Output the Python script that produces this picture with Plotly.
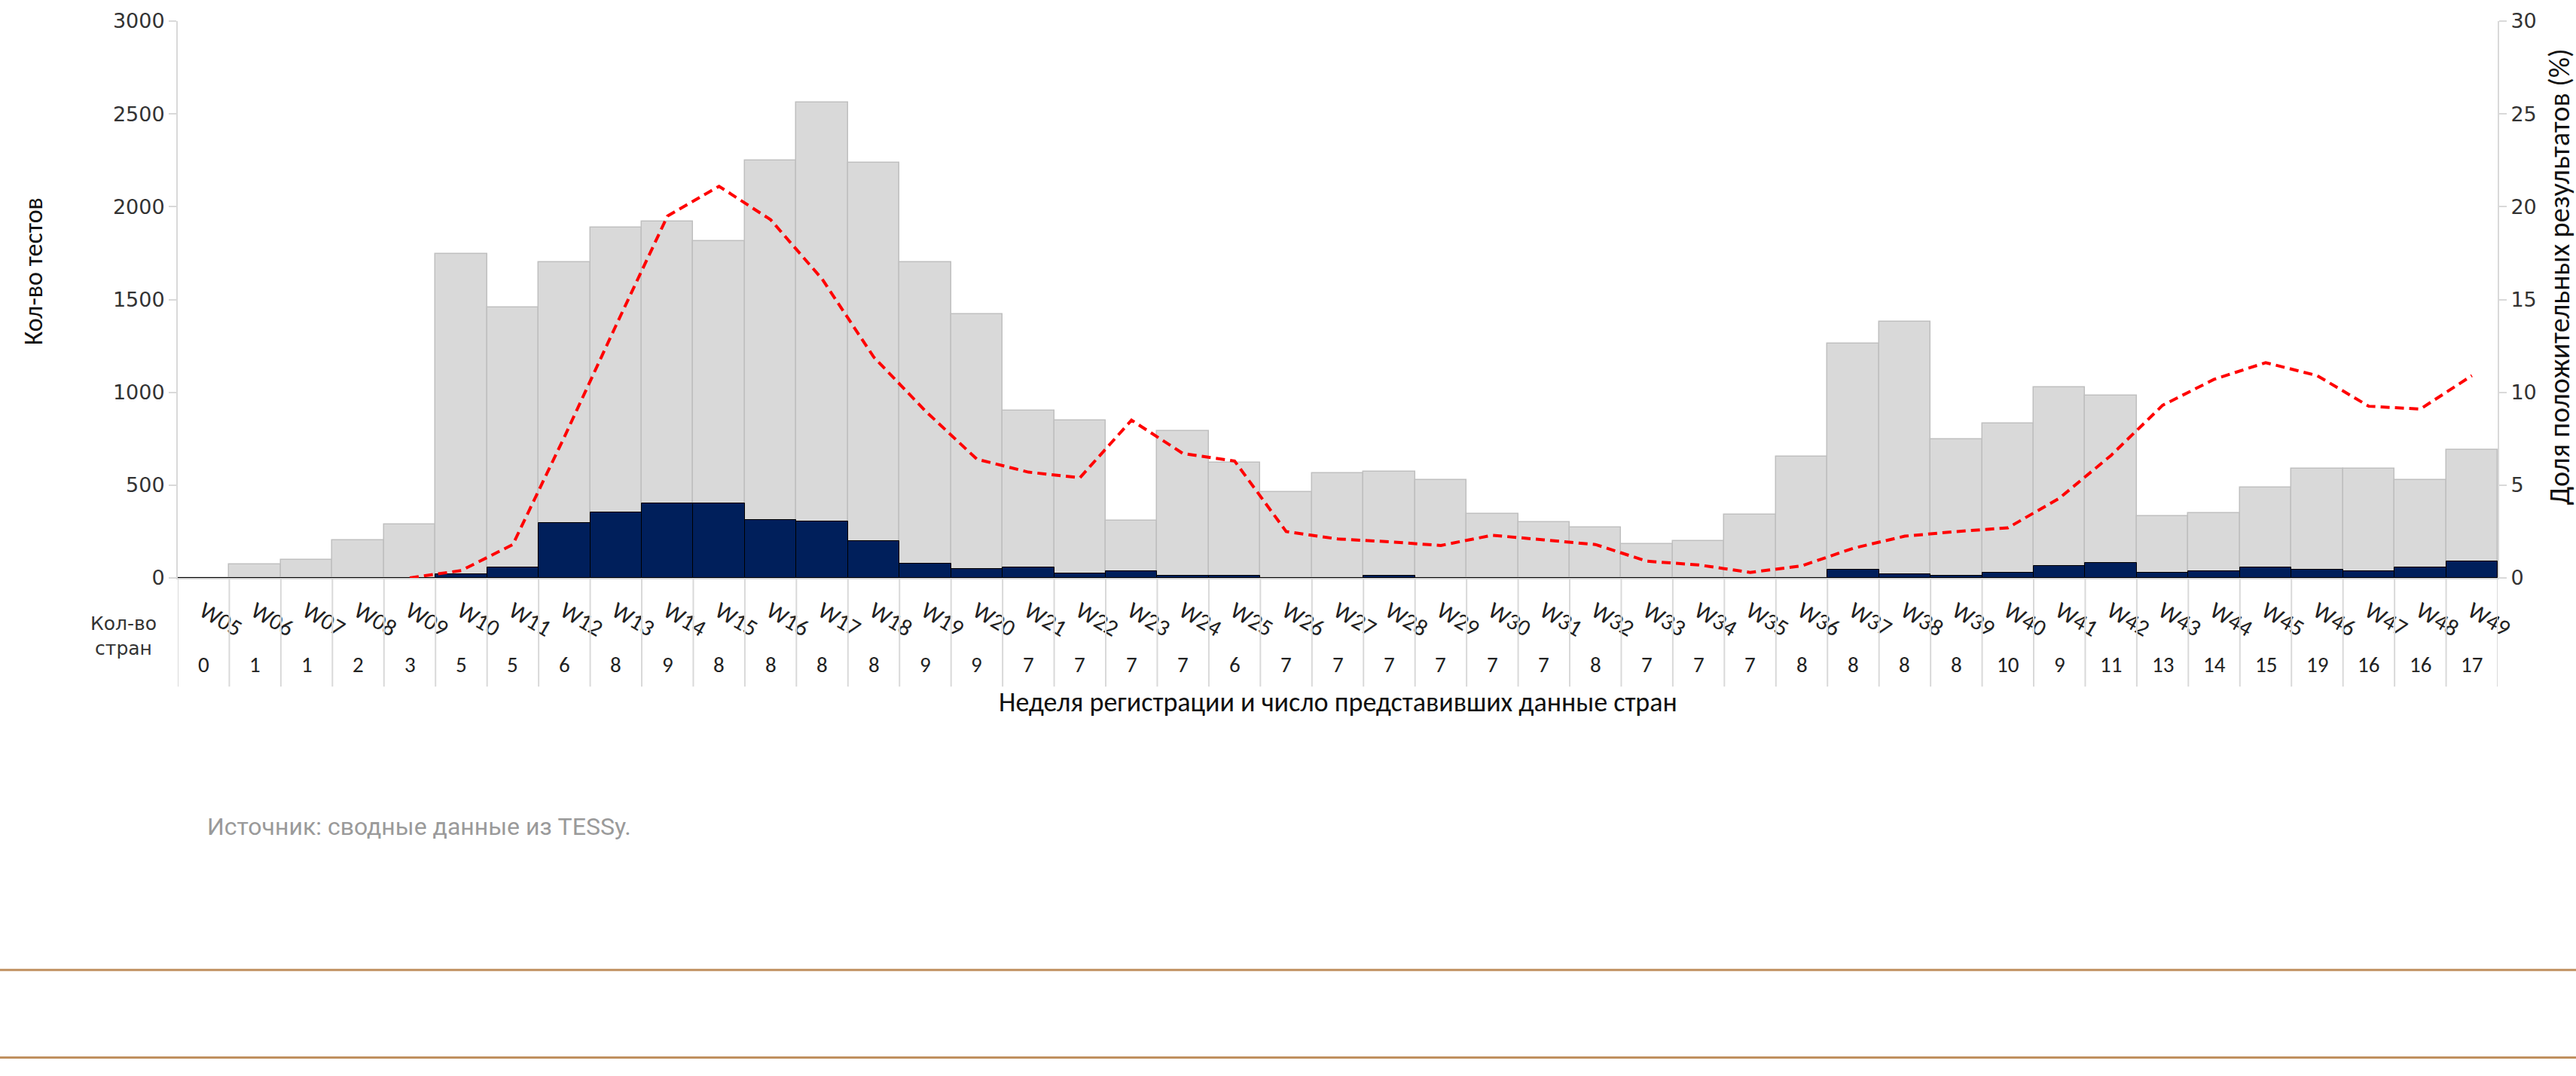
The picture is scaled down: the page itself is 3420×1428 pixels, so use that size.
import plotly.graph_objects as go

# ---------------- data ----------------
weeks = ["W05", "W06", "W07", "W08", "W09", "W10", "W11", "W12", "W13", "W14",
         "W15", "W16", "W17", "W18", "W19", "W20", "W21", "W22", "W23", "W24",
         "W25", "W26", "W27", "W28", "W29", "W30", "W31", "W32", "W33", "W34",
         "W35", "W36", "W37", "W38", "W39", "W40", "W41", "W42", "W43", "W44",
         "W45", "W46", "W47", "W48", "W49"]

countries = [0, 1, 1, 2, 3, 5, 5, 6, 8, 9,
             8, 8, 8, 8, 9, 9, 7, 7, 7, 7,
             6, 7, 7, 7, 7, 7, 7, 8, 7, 7,
             7, 8, 8, 8, 8, 10, 9, 11, 13, 14,
             15, 19, 16, 16, 17]

tests_total = [0, 72, 97, 201, 290, 1745, 1456, 1700, 1887, 1922,
               1814, 2251, 2560, 2235, 1700, 1422, 903, 850, 308, 791,
               621, 463, 563, 572, 528, 344, 300, 271, 182, 198,
               342, 655, 1262, 1381, 745, 831, 1026, 983, 332, 350,
               489, 588, 588, 527, 691]

tests_positive = [0, 0, 0, 0, 0, 19, 55, 295, 352, 400,
                  400, 311, 303, 198, 76, 48, 57, 25, 37, 11,
                  11, 0, 0, 11, 0, 0, 0, 0, 0, 0,
                  0, 0, 46, 20, 11, 28, 64, 81, 28, 38,
                  56, 46, 38, 56, 89]

pct_positive = [None, None, None, None, 0.0, 0.4, 1.8, 7.6, 13.6, 19.5,
                21.1, 19.3, 16.1, 11.9, 9.0, 6.4, 5.7, 5.4, 8.5, 6.7,
                6.3, 2.5, 2.1, 1.95, 1.75, 2.3, 2.05, 1.8, 0.9, 0.7,
                0.3, 0.65, 1.6, 2.25, 2.5, 2.7, 4.3, 6.6, 9.3, 10.7,
                11.6, 10.9, 9.25, 9.1, 10.9]

left_ticks = [0, 500, 1000, 1500, 2000, 2500, 3000]
right_ticks = [0, 5, 10, 15, 20, 25, 30]

# ---------------- figure ----------------
W, H = 3420, 1428
ML, MR, MT, MB = 236, 104, 24, 661
PW, PH = W - ML - MR, H - MT - MB

def px_x(px):
    return (px - ML) / PW

def px_y(py):
    return (H - MB - py) / PH

AXIS_GRAY = "#d9d9d9"
calibri = "Carlito, Lato, 'Noto Sans', sans-serif"

fig = go.Figure()
fig.add_trace(go.Bar(
    x=weeks, y=tests_total, name="Кол-во тестов",
    marker=dict(color="#d9d9d9", line=dict(color="#bfbfbf", width=1.5)),
    hoverinfo="x+y",
))
fig.add_trace(go.Bar(
    x=weeks, y=tests_positive, name="Положительные",
    marker=dict(color="#001f5b", line=dict(color="#000000", width=1)),
    hoverinfo="x+y",
))
fig.add_trace(go.Scatter(
    x=weeks, y=pct_positive, yaxis="y2", mode="lines",
    name="Доля положительных результатов (%)",
    line=dict(color="#ff0000", width=4, dash="12px,7px"),
    connectgaps=False,
))

shapes = []
# table separators below the axis
for i in range(len(weeks) + 1):
    shapes.append(dict(type="line", xref="x", yref="paper",
                       x0=i - 0.5, x1=i - 0.5, y0=0, y1=px_y(912),
                       line=dict(color=AXIS_GRAY, width=2)))
# brown page rules
for yy in (1290, 1407):
    shapes.append(dict(type="line", xref="paper", yref="paper",
                       x0=px_x(0), x1=px_x(W), y0=px_y(yy), y1=px_y(yy),
                       line=dict(color="#c09060", width=3)))

annotations = []
for wk, c in zip(weeks, countries):
    annotations.append(dict(x=wk, y=px_y(883), xref="x", yref="paper",
                            xanchor="center", yanchor="middle",
                            text=str(c), showarrow=False,
                            font=dict(family=calibri, size=29, color="#222222")))
annotations += [
    dict(x=px_x(164), y=px_y(844), xref="paper", yref="paper",
         xanchor="center", yanchor="middle",
         text="Кол-во<br>стран", showarrow=False,
         font=dict(family="DejaVu Sans", size=25, color="#333333")),
    dict(x=0.5, y=px_y(933), xref="paper", yref="paper",
         xanchor="center", yanchor="middle",
         text="Неделя регистрации и число представивших данные стран",
         showarrow=False,
         font=dict(family=calibri, size=36, color="#111111")),
    dict(x=px_x(44), y=px_y(358), xref="paper", yref="paper",
         xanchor="center", yanchor="middle",
         text="Кол-во тестов", textangle=-90, showarrow=False,
         font=dict(family=calibri, size=34, color="#111111")),
    dict(x=px_x(3398), y=px_y(365), xref="paper", yref="paper",
         xanchor="center", yanchor="middle",
         text="Доля положительных результатов (%)", textangle=-90,
         showarrow=False,
         font=dict(family=calibri, size=38, color="#111111")),
    dict(x=px_x(273), y=px_y(1099), xref="paper", yref="paper",
         xanchor="left", yanchor="middle",
         text="Источник: сводные данные из TESSy.",
         showarrow=False,
         font=dict(family="Roboto", size=32, color="#9a9a9a")),
]

fig.update_layout(
    width=W, height=H,
    margin=dict(l=ML, r=MR, t=MT, b=MB, pad=0),
    paper_bgcolor="white", plot_bgcolor="white",
    barmode="overlay", bargap=0,
    showlegend=False,
    shapes=shapes, annotations=annotations,
    xaxis=dict(
        type="category", categoryorder="array", categoryarray=weeks,
        range=[-0.5, len(weeks) - 0.5],
        showline=True, linecolor=AXIS_GRAY, linewidth=2,
        showgrid=False, ticks="", tickangle=30,
        tickfont=dict(family=calibri, size=31, color="#222222"),
        ticklabelstandoff=12,
    ),
    yaxis=dict(
        range=[0, 3000], tickvals=left_ticks,
        showline=True, linecolor=AXIS_GRAY, linewidth=2,
        showgrid=False, zeroline=False,
        ticks="outside", ticklen=10, tickcolor=AXIS_GRAY, tickwidth=2,
        tickfont=dict(family="DejaVu Sans", size=27, color="#333333"),
    ),
    yaxis2=dict(
        range=[0, 30], tickvals=right_ticks, overlaying="y", side="right",
        showline=True, linecolor=AXIS_GRAY, linewidth=2,
        showgrid=False, zeroline=False,
        ticks="outside", ticklen=10, tickcolor=AXIS_GRAY, tickwidth=2,
        tickfont=dict(family="DejaVu Sans", size=27, color="#333333"),
    ),
)

fig.write_html("out.html", config={"displayModeBar": False},
               post_script="document.body.style.margin='0';")
